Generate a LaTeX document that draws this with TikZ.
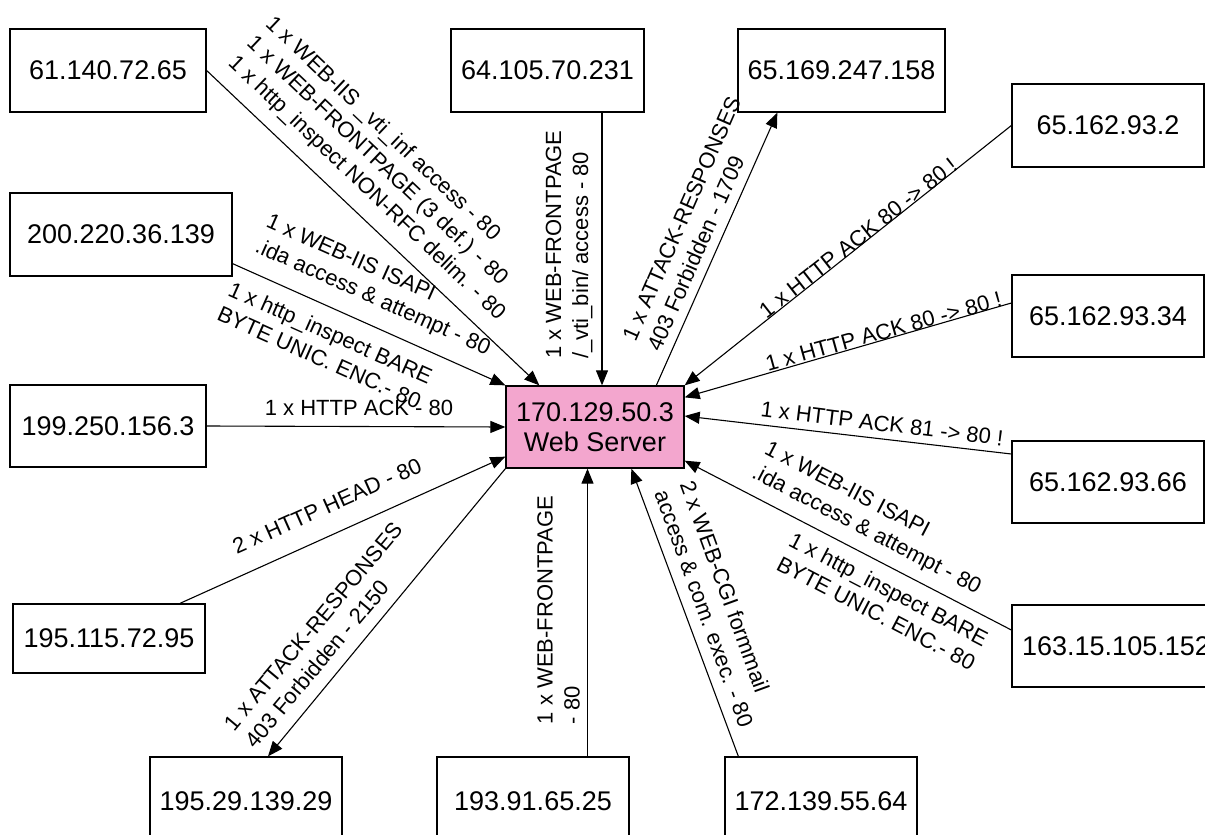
\documentclass[tikz,border=0pt]{standalone}
\usepackage{fontspec}
\setmainfont{Liberation Sans}
\usetikzlibrary{arrows.meta,calc}
\definecolor{srvpink}{RGB}{243,166,206}
\begin{document}
\begin{tikzpicture}[x=1pt,y=-1pt,
  host/.style={draw, line width=1.3pt, fill=white, inner sep=0pt, font=\fontsize{27}{30}\selectfont},
  server/.style={host, fill=srvpink, align=center},
  lbl/.style={inner sep=0pt, font=\fontsize{22}{27}\selectfont},
  conn/.style={line width=1.1pt, -{Triangle[length=15pt,width=12pt]}},
]
\useasboundingbox (0,0) rectangle (1205,835);
\clip (0,0) rectangle (1205,835);

% hosts
\node[server, minimum width=178pt, minimum height=82pt] (srv) at (595,427) {170.129.50.3\\Web Server};
\node[host, minimum width=196pt, minimum height=83pt] (a) at (108,70.5) {61.140.72.65};
\node[host, minimum width=193pt, minimum height=83pt] (m) at (547.5,70.5) {64.105.70.231};
\node[host, minimum width=207pt, minimum height=83pt] (l) at (841.5,70.5) {65.169.247.158};
\node[host, minimum width=192pt, minimum height=83pt] (k) at (1108,125.5) {65.162.93.2};
\node[host, minimum width=192pt, minimum height=82pt] (j) at (1108,316) {65.162.93.34};
\node[host, minimum width=192pt, minimum height=82pt] (i) at (1108,482) {65.162.93.66};
\node[host, minimum width=208pt, minimum height=82pt] (h) at (1116,646) {163.15.105.152};
\node[host, minimum width=222pt, minimum height=83pt] (b) at (121,234.5) {200.220.36.139};
\node[host, minimum width=196pt, minimum height=82pt] (c) at (108,426) {199.250.156.3};
\node[host, minimum width=192pt, minimum height=69pt] (d) at (109,638.5) {195.115.72.95};
\node[host, minimum width=192pt, minimum height=88pt] (e) at (246,801) {195.29.139.29};
\node[host, minimum width=192pt, minimum height=88pt] (f) at (533,801) {193.91.65.25};
\node[host, minimum width=192pt, minimum height=88pt] (g) at (821,801) {172.139.55.64};

% connectors
\draw[conn] (a.east) -- ($(srv.north west)+(34,0)$);
\draw[conn] ($(b.south east)+(0,-13)$) -- (srv.north west);
\draw[conn] (c.east) -- (srv.west);
\draw[conn] ($(d.north)+(71,0)$) -- ($(srv.south west)+(0,-12)$);
\draw[conn] (srv.south west) -- ($(e.north)+(22,0)$);
\draw[conn] ($(f.north)+(54.5,0)$) -- ($(srv.south)+(-7.5,0)$);
\draw[conn] ($(g.north west)+(14,0)$) -- ($(srv.south west)+(126,0)$);
\draw[conn] ($(h.west)+(0,-16)$) -- ($(srv.south east)+(0,-8)$);
\draw[conn] ($(i.west)+(0,-28)$) -- ($(srv.east)+(0,-11)$);
\draw[conn] ($(j.west)+(0,-13)$) -- ($(srv.north east)+(0,12)$);
\draw[conn] (k.west) -- (srv.north east);
\draw[conn] ($(srv.north west)+(151,0)$) -- ($(l.south west)+(40,0)$);
\draw[conn] ($(m.south)+(54.5,0)$) -- ($(srv.north)+(7,0)$);

% labels
\node[lbl, rotate=-43.5, align=left] (t1) at (385,169) {1 x WEB-IIS \_vti\_inf access - 80\\1 x WEB-FRONTPAGE (3 def.) - 80\\1 x http\_inspect NON-RFC delim. - 80};
\node[lbl, rotate=-24, align=left] (t2a) at (378,286) {1 x WEB-IIS ISAPI\\.ida access \& attempt - 80};
\node[lbl, rotate=-24, align=left] (t2b) at (325,345) {1 x http\_inspect BARE\\BYTE UNIC. ENC.- 80};
\node[lbl, anchor=base] (t3) at (359,415) {1 x HTTP ACK - 80};
\node[lbl, rotate=24] (t4) at (327,506) {2 x HTTP HEAD - 80};
\node[lbl, rotate=50, align=left] (t5) at (324,635) {1 x ATTACK-RESPONSES\\403 Forbidden - 2150};
\node[lbl, rotate=90, align=left] (t6) at (558.5,610) {1 x WEB-FRONTPAGE\\- 80};
\node[lbl, rotate=-70, align=left] (t7) at (717,604) {2 x WEB-CGI formmail\\access \& com. exec. - 80};
\node[lbl, rotate=-27.5, align=left] (t8a) at (872.5,519) {1 x WEB-IIS ISAPI\\.ida access \& attempt - 80};
\node[lbl, rotate=-27.5, align=left] (t8b) at (882.5,601) {1 x http\_inspect BARE\\BYTE UNIC. ENC.- 80};
\node[lbl, rotate=-7] (t9) at (882,423.5) {1 x HTTP ACK 81 -> 80 !};
\node[lbl, rotate=15.5] (t10) at (883.5,331.5) {1 x HTTP ACK 80 -> 80 !};
\node[lbl, rotate=38] (t11) at (858,238) {1 x HTTP ACK 80 -> 80 !};
\node[lbl, rotate=66.3, align=left] (t12) at (694,224) {1 x ATTACK-RESPONSES\\403 Forbidden - 1709};
\node[lbl, rotate=90, align=left] (t13) at (569,244.5) {1 x WEB-FRONTPAGE\\/\_vti\_bin/ access - 80};
\end{tikzpicture}
\end{document}
